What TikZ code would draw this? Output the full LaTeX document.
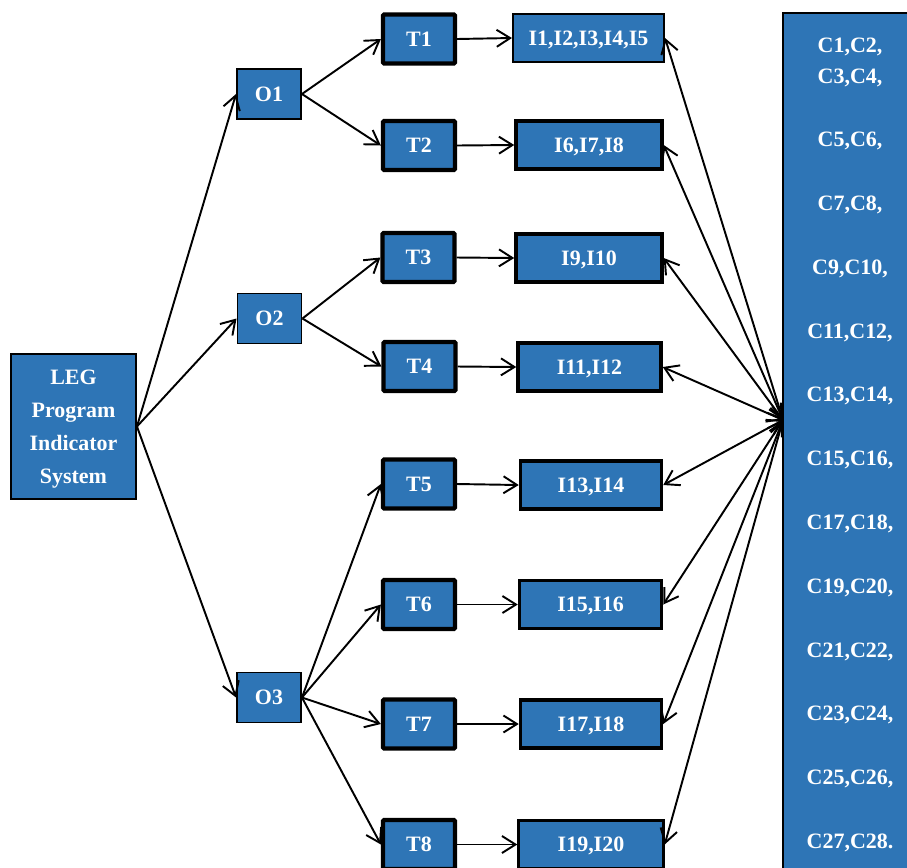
\documentclass[tikz,border=0pt]{standalone}
\usepackage{fontspec}
\setmainfont{Liberation Serif}
\usetikzlibrary{arrows.meta}
\definecolor{legblue}{RGB}{46,117,182}
\tikzset{
  block/.style={draw=black, fill=legblue, text=white, align=center, inner sep=1pt,
                font=\bfseries\fontsize{12.5}{15}\selectfont, line width=1.1pt,
                text depth=-2.5pt},
  rootblock/.style={block, minimum width=2.5cm, minimum height=2.9cm,
                    font=\bfseries\fontsize{12.5}{18.7}\selectfont, text depth=-5.4pt},
  opblock/.style={block, minimum width=1.28cm, minimum height=1.0cm},
  taskblock/.style={block, minimum width=1.44cm, minimum height=0.98cm,
                    line width=2.4pt, rounded corners=0.6pt},
  indblock/.style={block, minimum width=2.92cm, minimum height=0.96cm, line width=2pt},
  critblock/.style={block, minimum width=2.68cm, minimum height=17.2cm, line width=1.4pt,
                    font=\bfseries\fontsize{12.5}{17.6}\selectfont, text depth=0pt},
  arrow/.style={-{Straight Barb[length=2.7mm, width=3.4mm]}, line width=1.1pt},
  dualarrow/.style={arrow, {Straight Barb[length=2.7mm, width=3.4mm]}-{Straight Barb[length=2.7mm, width=3.4mm]}},
}

\begin{document}
\begin{tikzpicture}[x=0.02cm, y=-0.02cm]
\useasboundingbox (0,0) rectangle (907,867);
\clip (0,0) rectangle (907,867);

% ---- root and objectives ----
\node[rootblock] (leg) at (73.5,426.5) {LEG\\Program\\Indicator\\System};
\node[opblock] (o1) at (269,94) {O1};
\node[opblock] (o2) at (269.5,318.5) {O2};
\node[opblock] (o3) at (269,697.5) {O3};

% ---- tasks ----
\node[taskblock] (t1) at (419,39) {T1};
\node[taskblock] (t2) at (419,145.5) {T2};
\node[taskblock] (t3) at (418.5,257.5) {T3};
\node[taskblock] (t4) at (419.5,366.5) {T4};
\node[taskblock] (t5) at (419,484) {T5};
\node[taskblock] (t6) at (419,604.5) {T6};
\node[taskblock] (t7) at (419,724) {T7};
\node[taskblock] (t8) at (419,844.5) {T8};

% ---- indicators ----
\node[indblock, line width=1.2pt, minimum width=3.02cm] (i1) at (588.5,38) {I1,I2,I3,I4,I5};
\node[indblock] (i2) at (589,145) {I6,I7,I8};
\node[indblock] (i3) at (589,258) {I9,I10};
\node[indblock, minimum width=2.86cm] (i4) at (589.5,367) {I11,I12};
\node[indblock, minimum width=2.82cm] (i5) at (591,485) {I13,I14};
\node[indblock, minimum width=2.84cm] (i6) at (590.5,604.5) {I15,I16};
\node[indblock, minimum width=2.82cm] (i7) at (591,724) {I17,I18};
\node[indblock, line width=1.4pt, minimum width=2.9cm] (i8) at (591,844.5) {I19,I20};

% ---- criteria ----
\coordinate (hub) at (783,420);
\foreach \k in {1,...,8}
  \draw[dualarrow] (hub) -- (i\k.east);
\node[critblock] (crit) at (850,443)
  {C1,C2,\\C3,C4,\\[18.7pt]C5,C6,\\[18.7pt]C7,C8,\\[18.7pt]C9,C10,\\[18.7pt]C11,C12,\\[18.7pt]C13,C14,%
   \\[18.7pt]C15,C16,\\[18.7pt]C17,C18,\\[18.7pt]C19,C20,\\[18.7pt]C21,C22,\\[18.7pt]C23,C24,%
   \\[18.7pt]C25,C26,\\[18.7pt]C27,C28.};

% ---- connectors ----
\foreach \o in {o1,o2,o3}
  \draw[arrow] (leg.east) -- (\o.west);
\foreach \o/\t in {o1/t1,o1/t2,o2/t3,o2/t4,o3/t5,o3/t6,o3/t7,o3/t8}
  \draw[arrow] (\o.east) -- (\t.west);
\foreach \k in {1,...,8}
  \draw[arrow] (t\k.east) -- (i\k.west);
\end{tikzpicture}
\end{document}
